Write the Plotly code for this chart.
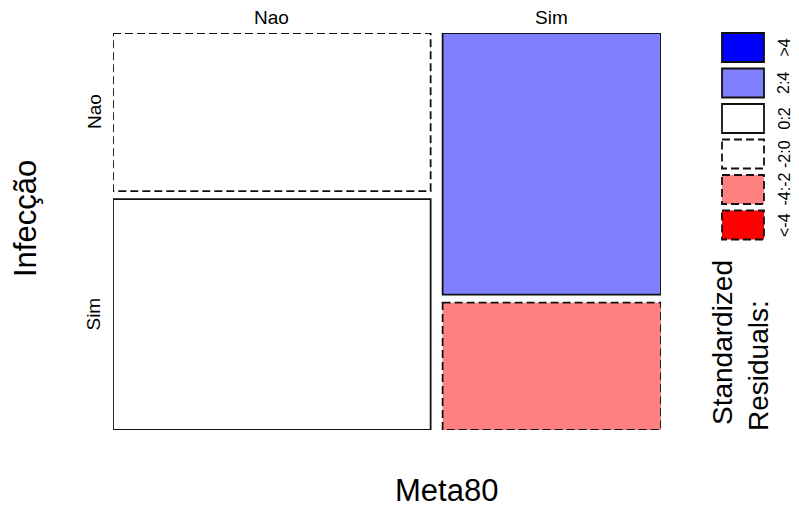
import numpy as np
import plotly.graph_objects as go

# Contingency table: Meta80 (columns) x Infecção (rows)
meta80_levels = ["Nao", "Sim"]
infeccao_levels = ["Nao", "Sim"]
counts_meta_nao = [65, 95]   # Infecção Nao, Sim  | Meta80 = Nao
counts_meta_sim = [74, 36]   # Infecção Nao, Sim  | Meta80 = Sim

# Residual shading classes
breaks = [-4, -2, 0, 2, 4]
class_labels = ["<-4", "-4:-2", "-2:0", "0:2", "2:4", ">4"]
class_fills = ["#FF0000", "#FF8080", "#FFFFFF", "#FFFFFF", "#8080FF", "#0000FF"]
class_dash = ["dash", "dash", "dash", "solid", "solid", "solid"]

table = np.array([counts_meta_nao, counts_meta_sim], dtype=float)  # [col, row]
N = table.sum()
col_tot = table.sum(axis=1)
row_tot = table.sum(axis=0)
expected = np.outer(col_tot, row_tot) / N
resid = (table - expected) / np.sqrt(expected)

# Figure geometry (pixels)
W, H = 799, 510
ML, MR, MT, MB = 113, 138, 33, 80
PW, PH = W - ML - MR, H - MT - MB

gap_x = 12 / PW
gap_y = 8 / PH
DASH = "8px,4px"
EDGE = "#111111"
LW = 1.8


def shade_class(r):
    return int(np.searchsorted(breaks, r, side="right"))


fig = go.Figure()
shapes = []

x0 = 0.0
col_w = (1 - gap_x * (len(meta80_levels) - 1)) * col_tot / N
for j in range(len(meta80_levels)):
    y0 = 0.0
    hts = (1 - gap_y * (len(infeccao_levels) - 1)) * table[j] / col_tot[j]
    for i in range(len(infeccao_levels)):
        k = shade_class(resid[j, i])
        shapes.append(dict(
            type="rect", xref="x", yref="y",
            x0=x0, x1=x0 + col_w[j], y0=y0, y1=y0 + hts[i],
            fillcolor=class_fills[k],
            line=dict(color=EDGE, width=LW,
                      dash=DASH if class_dash[k] == "dash" else "solid"),
            layer="above",
        ))
        y0 += hts[i] + gap_y
    x0 += col_w[j] + gap_x

# invisible trace so the axes exist
fig.add_trace(go.Scatter(x=[0, 1], y=[0, 1], mode="markers",
                         marker=dict(opacity=0), hoverinfo="skip",
                         showlegend=False))


def px(xp):
    return (xp - ML) / PW


def py(yp):
    return (H - MB - yp) / PH


annotations = []
FONT = "Liberation Sans, Arial, sans-serif"


def label(x, y, text, size, angle=0, xref="paper", yref="paper"):
    annotations.append(dict(
        x=x, y=y, xref=xref, yref=yref, text=text, textangle=angle,
        showarrow=False, xanchor="center", yanchor="middle",
        font=dict(family=FONT, size=size, color="black")))


# column labels (top)
x0 = 0.0
for j, lab in enumerate(meta80_levels):
    label(x0 + col_w[j] / 2, py(17), lab, 19, xref="x")
    x0 += col_w[j] + gap_x

# row labels (left), placed on the first column
y0 = 0.0
hts0 = (1 - gap_y) * table[0] / col_tot[0]
for i, lab in enumerate(infeccao_levels):
    label(px(94), y0 + hts0[i] / 2, lab, 19, angle=-90, yref="y")
    y0 += hts0[i] + gap_y

# axis titles
label(px(446), py(490), "Meta80", 31)
label(px(25), py(219), "Infecção", 31, angle=-90)

# legend title (two lines, left-aligned along the rotated baseline)
label(px(722), py(343), "Standardized", 28, angle=-90)
label(px(758), py(366), "Residuals:", 28, angle=-90)

# legend boxes (top = largest class)
box_top = 33
box_h = 29
box_step = 35.5
for n, k in enumerate(reversed(range(len(class_labels)))):
    top = box_top + n * box_step
    shapes.append(dict(
        type="rect", xref="paper", yref="paper",
        x0=px(722), x1=px(764), y0=py(top), y1=py(top + box_h),
        fillcolor=class_fills[k],
        line=dict(color=EDGE, width=LW,
                  dash=DASH if class_dash[k] == "dash" else "solid"),
    ))
    label(px(784), py(top + box_h / 2), class_labels[k], 16, angle=-90)

fig.update_layout(
    width=W, height=H,
    margin=dict(l=ML, r=MR, t=MT, b=MB),
    paper_bgcolor="white", plot_bgcolor="white",
    xaxis=dict(range=[0, 1], visible=False, fixedrange=True),
    yaxis=dict(range=[1, 0], visible=False, fixedrange=True),
    shapes=shapes, annotations=annotations,
    showlegend=False,
)

fig.write_html("out.html")
